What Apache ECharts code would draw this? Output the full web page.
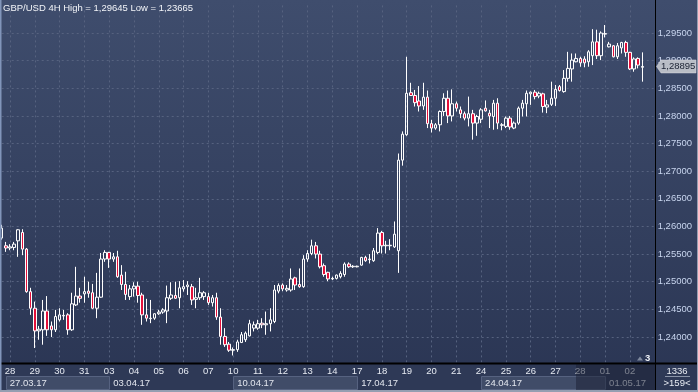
<!DOCTYPE html>
<html><head><meta charset="utf-8">
<script src="https://cdn.jsdelivr.net/npm/echarts@6/dist/echarts.min.js"></script>
<style>html,body{margin:0;padding:0;background:#2e3956;}#c{width:698px;height:392px;}</style>
</head><body><div id="c"></div>
<script>
// ---- data (GBP/USD 4H) ----
const dayLabels = ['28','29','30','31','03','04','05','06','07','10','11','12','13','14','17','18','19','20','21','24','25','26','27','28','01','02'];
const weekLabels = ['27.03.17','03.04.17','10.04.17','17.04.17','24.04.17','01.05.17'];
const weekStartIdx = [1, 26, 56, 86, 116, 146];
const open = [1.2579,1.2565,1.2561,1.2562,1.2574,1.2589,1.2559,1.2482,1.2452,1.2411,1.2413,1.2447,1.2420,1.2413,1.2431,1.2438,1.2440,1.2413,1.2458,1.2474,1.2478,1.2483,1.2480,1.2452,1.2472,1.2541,1.2553,1.2541,1.2545,1.2512,1.2495,1.2473,1.2487,1.2492,1.2476,1.2440,1.2433,1.2434,1.2442,1.2445,1.2447,1.2470,1.2475,1.2471,1.2487,1.2491,1.2491,1.2468,1.2471,1.2473,1.2473,1.2462,1.2471,1.2436,1.2401,1.2387,1.2376,1.2377,1.2390,1.2395,1.2402,1.2416,1.2416,1.2425,1.2422,1.2424,1.2428,1.2483,1.2494,1.2485,1.2485,1.2507,1.2495,1.2491,1.2541,1.2551,1.2565,1.2550,1.2529,1.2517,1.2505,1.2506,1.2509,1.2513,1.2532,1.2527,1.2527,1.2530,1.2544,1.2540,1.2538,1.2553,1.2589,1.2565,1.2565,1.2563,1.2556,1.2720,1.2766,1.2842,1.2837,1.2827,1.2818,1.2834,1.2786,1.2778,1.2784,1.2808,1.2832,1.2800,1.2822,1.2811,1.2804,1.2796,1.2804,1.2787,1.2794,1.2814,1.2805,1.2799,1.2823,1.2783,1.2781,1.2796,1.2778,1.2787,1.2814,1.2822,1.2840,1.2843,1.2836,1.2840,1.2816,1.2821,1.2832,1.2853,1.2844,1.2868,1.2885,1.2898,1.2904,1.2903,1.2898,1.2909,1.2934,1.2909,1.2948,1.2925,1.2927,1.2907,1.2923,1.2933,1.2915,1.2885,1.2904,1.2888];
const high = [1.2603,1.2572,1.2568,1.2572,1.2595,1.2595,1.2561,1.2489,1.2464,1.2420,1.2467,1.2474,1.2428,1.2449,1.2452,1.2449,1.2443,1.2480,1.2527,1.2489,1.2509,1.2500,1.2496,1.2516,1.2552,1.2557,1.2554,1.2552,1.2556,1.2530,1.2518,1.2494,1.2499,1.2500,1.2480,1.2469,1.2467,1.2443,1.2449,1.2452,1.2493,1.2499,1.2500,1.2501,1.2503,1.2501,1.2496,1.2489,1.2507,1.2483,1.2480,1.2476,1.2480,1.2452,1.2416,1.2391,1.2381,1.2395,1.2409,1.2410,1.2431,1.2428,1.2431,1.2434,1.2446,1.2452,1.2494,1.2497,1.2497,1.2494,1.2524,1.2509,1.2524,1.2548,1.2557,1.2576,1.2572,1.2556,1.2533,1.2518,1.2509,1.2513,1.2519,1.2535,1.2535,1.2530,1.2529,1.2545,1.2547,1.2550,1.2561,1.2597,1.2592,1.2574,1.2577,1.2609,1.2732,1.2772,1.2907,1.2860,1.2847,1.2854,1.2860,1.2846,1.2793,1.2787,1.2810,1.2841,1.2846,1.2848,1.2826,1.2817,1.2808,1.2835,1.2811,1.2802,1.2814,1.2828,1.2811,1.2829,1.2832,1.2787,1.2799,1.2800,1.2790,1.2817,1.2829,1.2846,1.2844,1.2847,1.2844,1.2842,1.2829,1.2862,1.2856,1.2856,1.2883,1.2916,1.2913,1.2913,1.2907,1.2908,1.2919,1.2957,1.2956,1.2953,1.29645,1.2934,1.2928,1.2932,1.2934,1.2936,1.2916,1.2906,1.2906,1.2915];
const low = [1.2576,1.2554,1.2557,1.2557,1.2545,1.2548,1.2480,1.2440,1.2380,1.2395,1.2386,1.2402,1.2400,1.2409,1.2428,1.2431,1.2404,1.2411,1.2456,1.2462,1.2462,1.2471,1.2451,1.2434,1.2471,1.2536,1.2525,1.2536,1.2507,1.2485,1.2467,1.2467,1.2473,1.2462,1.2422,1.2428,1.2425,1.2431,1.2440,1.2442,1.2425,1.2467,1.2469,1.2452,1.2482,1.2476,1.2458,1.2452,1.2467,1.2467,1.2458,1.2455,1.2431,1.2386,1.2382,1.2373,1.23665,1.2373,1.2389,1.2391,1.2401,1.2410,1.2413,1.2416,1.2404,1.2410,1.2425,1.2479,1.2483,1.2482,1.2482,1.2485,1.2489,1.2489,1.2536,1.2548,1.2542,1.2524,1.2509,1.2501,1.2503,1.2504,1.2506,1.2509,1.2525,1.2525,1.2526,1.2529,1.2536,1.2533,1.2536,1.2550,1.2551,1.2551,1.2557,1.2561,1.2516,1.2710,1.2764,1.2836,1.2817,1.2808,1.2811,1.2778,1.2770,1.2775,1.2772,1.2800,1.2787,1.2790,1.2808,1.2796,1.2792,1.2781,1.2757,1.2764,1.2787,1.2808,1.2778,1.2775,1.2776,1.2774,1.2778,1.2775,1.2776,1.2784,1.2799,1.2799,1.2820,1.2830,1.2832,1.2806,1.2805,1.2818,1.2818,1.2844,1.2842,1.2862,1.2862,1.2897,1.2889,1.2888,1.2889,1.2892,1.2903,1.2901,1.2942,1.2924,1.2906,1.2903,1.2913,1.2907,1.2883,1.2880,1.2886,1.2862];
const close = [1.2597,1.2561,1.2563,1.2568,1.2594,1.2559,1.2482,1.2452,1.2411,1.2414,1.2447,1.2413,1.2413,1.2437,1.2440,1.2439,1.2413,1.2460,1.2474,1.2470,1.2482,1.2479,1.2452,1.2472,1.2541,1.2553,1.2541,1.2545,1.2509,1.2495,1.2477,1.2487,1.2492,1.2475,1.2440,1.2434,1.2434,1.2442,1.2445,1.2449,1.2471,1.2476,1.2470,1.2489,1.2491,1.2494,1.2467,1.2471,1.2480,1.2480,1.2462,1.2471,1.2436,1.2401,1.2386,1.2376,1.2377,1.2391,1.2404,1.2407,1.2424,1.2422,1.2424,1.2422,1.2424,1.2431,1.2485,1.2493,1.2487,1.2488,1.2505,1.2494,1.2491,1.2541,1.2551,1.2565,1.2550,1.2527,1.2513,1.2505,1.2506,1.2512,1.2515,1.2532,1.2527,1.2528,1.2528,1.2544,1.2538,1.2541,1.2556,1.2588,1.2565,1.2566,1.2566,1.2586,1.2720,1.2767,1.2841,1.2837,1.2824,1.2818,1.2834,1.2786,1.2778,1.2784,1.2808,1.2832,1.2800,1.2822,1.2814,1.2804,1.2796,1.2804,1.2787,1.2799,1.2811,1.2809,1.2800,1.2823,1.2787,1.2784,1.2796,1.2780,1.2787,1.2814,1.2823,1.2841,1.2843,1.2835,1.2841,1.2817,1.2820,1.2832,1.2848,1.2846,1.2868,1.2886,1.2901,1.2904,1.2896,1.2896,1.2916,1.2934,1.2909,1.2950,1.2949,1.2930,1.2907,1.2927,1.2933,1.2915,1.2885,1.2903,1.2892,1.28895];

const N_SLOTS = 159;
const cats = [];
for (let i = 0; i < N_SLOTS; i++) cats.push(String(i));
const candles = open.map((o, i) => [o, close[i], low[i], high[i]]);
const fmtP = v => v.toFixed(5).replace('.', ',');
const isDayStart = (idx) => idx >= 2 && (idx - 2) % 6 === 0 && (idx - 2) / 6 < dayLabels.length;
const isWeekStart = (idx) => weekStartIdx.indexOf(idx) >= 0;
const FONT = 'Liberation Sans';

const chart = echarts.init(document.getElementById('c'), null, {width: 698, height: 392});
const gridLine = {color: '#56627f', type: [2, 3], width: 1};
chart.setOption({
  animation: false,
  grid: {left: 1.7, top: 5.4, width: 653, height: 359.2},
  xAxis: [{
    type: 'category', data: cats, boundaryGap: false,
    axisLine: {show: false}, axisTick: {show: false},
    axisLabel: {interval: isDayStart, formatter: (v, i) => dayLabels[(i - 2) / 6],
      color: '#e6eaf2', fontSize: 9.5, fontFamily: FONT, margin: 2},
    splitLine: {show: true, interval: isDayStart, lineStyle: gridLine}
  }, {
    type: 'category', data: cats, boundaryGap: false, position: 'bottom', offset: 11.5,
    axisLine: {show: false}, axisTick: {show: false}, splitLine: {show: false},
    axisLabel: {interval: isWeekStart, formatter: (v, i) => weekLabels[weekStartIdx.indexOf(i)],
      align: 'left', padding: [0, 0, 0, 4], color: '#e2e6ee', fontSize: 9.5, fontFamily: FONT, margin: 2}
  }],
  yAxis: {
    type: 'value', position: 'right', min: 1.235, max: 1.30, interval: 0.005,
    axisLine: {show: false}, axisTick: {show: false},
    axisLabel: {formatter: fmtP, showMinLabel: false, showMaxLabel: false, margin: 3,
      color: '#c8d5ee', fontSize: 9.5, fontFamily: FONT},
    splitLine: {show: true, showMinLine: false, showMaxLine: false, lineStyle: gridLine}
  },
  series: [{
    type: 'candlestick', data: candles, barWidth: 3,
    itemStyle: {color: 'rgba(0,0,0,0)', color0: '#e3103b', borderColor: '#ffffff', borderColor0: '#ffffff', borderWidth: 1}
  }]
});

function px(i) { return chart.convertToPixel({xAxisIndex: 0}, i); }
const lastY = chart.convertToPixel({yAxisIndex: 0}, close[close.length - 1]);
const hi = Math.max(...high), lo = Math.min(...low);
const g = [];
g.push({type: 'rect', z: -100, shape: {x: 0, y: 0, width: 698, height: 392},
  style: {fill: new echarts.graphic.LinearGradient(0, 0, 0, 1, [{offset: 0, color: '#3f4d6d'}, {offset: 1, color: '#2a3553'}])}});
g.push({type: 'rect', z: -90, shape: {x: 0, y: 363, width: 698, height: 29}, style: {fill: '#2e3956'}});
// week boxes (alternate weeks)
const ends = weekStartIdx.concat([N_SLOTS - 1]);
for (let k = 0; k < weekStartIdx.length; k += 2) {
  const x0 = px(ends[k]), x1 = Math.min(px(ends[k + 1]), 655);
  g.push({type: 'rect', z: -80, shape: {x: Math.round(x0) + 0.5, y: 376.5, width: Math.round(x1 - x0), height: 13},
    style: {fill: '#404c68', stroke: '#566280', lineWidth: 1}});
}
// dark overlay at right end of time axis
g.push({type: 'rect', z: 50, shape: {x: Math.round(px(139)), y: 364.5, width: 655 - Math.round(px(139)), height: 25.5},
  style: {fill: 'rgba(28,34,52,0.53)'}});
// black separator lines
g.push({type: 'line', z: 60, shape: {x1: 0, y1: 363.5, x2: 698, y2: 363.5}, style: {stroke: '#000', lineWidth: 2}});
g.push({type: 'line', z: 60, shape: {x1: 655.5, y1: 0, x2: 655.5, y2: 392}, style: {stroke: '#000', lineWidth: 1}});
// frame
g.push({type: 'rect', z: 60, shape: {x: 0, y: 0, width: 1.5, height: 392}, style: {fill: '#8195ba'}});
g.push({type: 'rect', z: 60, shape: {x: 0, y: 390, width: 698, height: 2}, style: {fill: '#959eb1'}});
g.push({type: 'rect', z: 60, shape: {x: 697, y: 0, width: 1, height: 392}, style: {fill: '#959eb1'}});
// title
g.push({type: 'text', z: 70, x: 3, y: 8, style: {text: 'GBP/USD 4H High = ' + fmtP(hi) + ' Low = ' + fmtP(lo),
  fill: '#f2f4f8', font: '9.5px "Liberation Sans"', textVerticalAlign: 'middle'}});
// marker ▲3
g.push({type: 'polygon', z: 70, shape: {points: [[637, 360.5], [640, 356.5], [643, 360.5]]}, style: {fill: '#7f899e'}});
g.push({type: 'text', z: 70, x: 645, y: 358.5, style: {text: '3', fill: '#eef1f6', font: 'bold 9.5px "Liberation Sans"', textVerticalAlign: 'middle'}});
// bottom-right box
g.push({type: 'text', z: 70, x: 677, y: 371, style: {text: '1336', fill: '#e8ecf3', font: '9.5px "Liberation Sans"', textAlign: 'center', textVerticalAlign: 'middle'}});
g.push({type: 'line', z: 70, shape: {x1: 665, y1: 376.5, x2: 690, y2: 376.5}, style: {stroke: '#8a94a8', lineWidth: 1}});
g.push({type: 'text', z: 70, x: 677, y: 383, style: {text: '>159<', fill: '#e8ecf3', font: '9.5px "Liberation Sans"', textAlign: 'center', textVerticalAlign: 'middle'}});
// current price tag
g.push({type: 'polygon', z: 80, shape: {points: [[656.5, lastY], [661, lastY - 6.5], [696, lastY - 6.5], [696, lastY + 6.5], [661, lastY + 6.5]]},
  style: {fill: '#b9bdc6', stroke: '#d8dbe1', lineWidth: 0.5}});
g.push({type: 'text', z: 81, x: 661, y: lastY, style: {text: fmtP(close[close.length - 1]), fill: '#1b2233', font: '9.5px "Liberation Sans"', textVerticalAlign: 'middle'}});
chart.setOption({graphic: g});
</script></body></html>
